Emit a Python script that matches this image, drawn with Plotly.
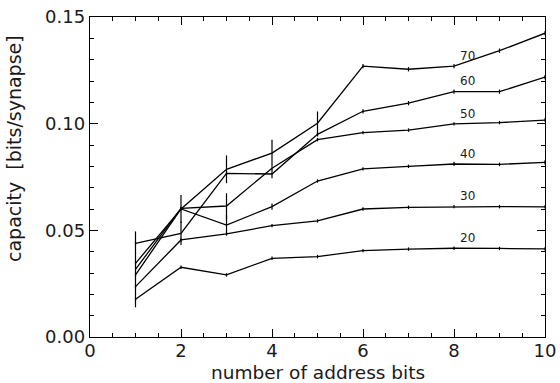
import plotly.graph_objects as go

# ---- data ----
address_bits = [1, 2, 3, 4, 5, 6, 7, 8, 9, 10]
series_labels = ["20", "30", "40", "50", "60", "70"]

cap_20 = [0.0177, 0.0327, 0.0291, 0.0369, 0.0377, 0.0405, 0.0412, 0.0416, 0.0415, 0.0413]
cap_30 = [0.0236, 0.0455, 0.0483, 0.0522, 0.0544, 0.0600, 0.0608, 0.0611, 0.0611, 0.0610]
cap_40 = [0.0345, 0.0600, 0.0525, 0.0611, 0.0731, 0.0788, 0.0800, 0.0811, 0.0809, 0.0819]
cap_50 = [0.0317, 0.0603, 0.0614, 0.0791, 0.0925, 0.0958, 0.0970, 0.0999, 0.1005, 0.1017]
cap_60 = [0.0439, 0.0486, 0.0767, 0.0764, 0.0950, 0.1058, 0.1096, 0.1150, 0.1150, 0.1218]
cap_70 = [0.0291, 0.0600, 0.0786, 0.0862, 0.1002, 0.1270, 0.1255, 0.1270, 0.1342, 0.1424]

err_20 = [0.0008, 0.0008, 0.0008, 0.0008, 0.0008, 0.0008, 0.0008, 0.0008, 0.0008, 0.0008]
err_30 = [0.0008, 0.0008, 0.0008, 0.0008, 0.0008, 0.0008, 0.0008, 0.0008, 0.0008, 0.0008]
err_40 = [0.0008, 0.0008, 0.0047, 0.0015, 0.0008, 0.0008, 0.0008, 0.0010, 0.0008, 0.0010]
err_50 = [0.0178, 0.0008, 0.0060, 0.0008, 0.0008, 0.0008, 0.0008, 0.0008, 0.0008, 0.0008]
err_60 = [0.0008, 0.0055, 0.0008, 0.0020, 0.0010, 0.0010, 0.0010, 0.0010, 0.0010, 0.0010]
err_70 = [0.0008, 0.0066, 0.0065, 0.0063, 0.0055, 0.0010, 0.0010, 0.0010, 0.0010, 0.0010]

x_ticks = [0, 2, 4, 6, 8, 10]
y_ticks = [0.00, 0.05, 0.10, 0.15]

x_title = "number of address bits"
y_title = "capacity  [bits/synapse]"

all_caps = [cap_20, cap_30, cap_40, cap_50, cap_60, cap_70]
all_errs = [err_20, err_30, err_40, err_50, err_60, err_70]

FONT = "DejaVu Sans"
TXT = "#1a1a1a"
fig = go.Figure()

for name, cap, err in zip(series_labels, all_caps, all_errs):
    fig.add_trace(go.Scatter(
        x=address_bits, y=cap, mode="lines", name=name,
        line=dict(color="black", width=1.3),
        error_y=dict(type="data", array=err, visible=True,
                     color="black", thickness=1.2, width=0),
        showlegend=False,
    ))
    fig.add_annotation(
        x=8.3, y=cap[7] + 0.0048, text=name, showarrow=False,
        font=dict(family=FONT, size=12, color=TXT),
        xanchor="center", yanchor="middle",
    )

axis_common = dict(
    showgrid=False, zeroline=False, showline=True, linecolor="black",
    linewidth=1.3, mirror="allticks", ticks="inside", tickcolor="black",
    tickwidth=1, ticklen=8, tickfont=dict(family=FONT, size=18, color=TXT),
)

fig.update_xaxes(
    range=[0, 10], tickvals=x_ticks, ticktext=[str(v) for v in x_ticks],
    minor=dict(dtick=0.5, ticks="inside", ticklen=4, tickcolor="black", tickwidth=1),
    ticklabelstandoff=-3,
    **axis_common,
)
fig.update_yaxes(
    range=[0, 0.15], tickvals=y_ticks, ticktext=[f"{v:.2f}" for v in y_ticks],
    minor=dict(dtick=0.01, ticks="inside", ticklen=4, tickcolor="black", tickwidth=1),
    **axis_common,
)

# axis titles as positioned text
fig.add_annotation(
    xref="paper", yref="paper", x=0.5, y=-0.1094, text=x_title, showarrow=False,
    font=dict(family=FONT, size=18.5, color=TXT), xanchor="center", yanchor="middle",
    borderpad=0,
)
fig.add_annotation(
    xref="paper", yref="paper", x=-0.167, y=0.5875, text=y_title, showarrow=False,
    textangle=-90, font=dict(family=FONT, size=19, color=TXT),
    xanchor="center", yanchor="middle", borderpad=0,
)

fig.update_layout(
    width=560, height=383,
    margin=dict(l=90, r=15, t=17, b=46, autoexpand=False),
    paper_bgcolor="white", plot_bgcolor="white",
)

# remove the default 8px page margin so the figure fills the window exactly
fig.write_html(
    "out.html",
    config={"staticPlot": True, "displayModeBar": False},
    post_script="document.body.style.margin='0px';",
)
